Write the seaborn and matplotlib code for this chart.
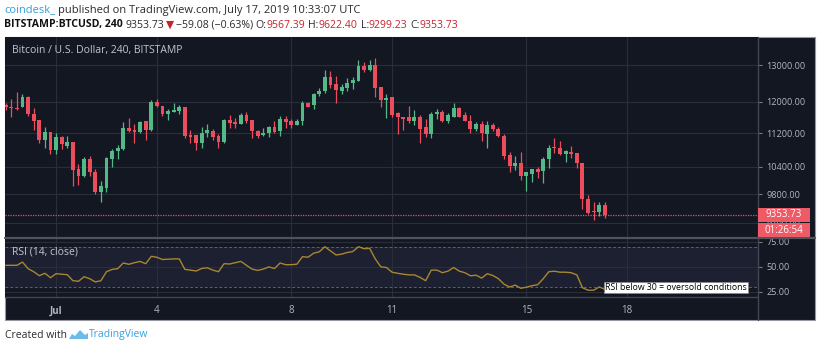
import numpy as np
import pandas as pd
import matplotlib
matplotlib.use('Agg')
import matplotlib.pyplot as plt
import matplotlib.dates as mdates
from matplotlib.patches import Rectangle, Polygon
from matplotlib.lines import Line2D
from matplotlib.ticker import NullLocator
import seaborn as sns

# BTC/USD 4h candles, Jun 29 12:00 -> Jul 17 08:00
opens = [11900, 11860, 11840, 11850, 12130, 11680, 11530, 11040, 11230, 10780,
         11100, 10890, 10990, 10350, 10190, 10580, 10290, 9840, 9940, 10590,
         10760, 10820, 11330, 11280, 11220, 11490, 11280, 11980, 11890, 11690,
         11740, 11760, 11860, 11150, 11150, 10970, 11190, 11260, 11120, 10990,
         11530, 11470, 11430, 11640, 11530, 11250, 11150, 11190, 11360, 11250,
         11560, 11490, 11410, 11490, 11960, 11900, 12190, 12280, 12660, 12460,
         12280, 12370, 12500, 12560, 12980, 12860, 13010, 12390, 12040, 12110,
         11700, 11610, 11590, 11510, 11590, 11360, 11180, 11690, 11720, 11490,
         11610, 11840, 11640, 11510, 11300, 11430, 11180, 11410, 11290, 11140,
         10670, 10410, 10490, 10190, 10240, 10350, 10300, 10570, 10860, 10840,
         10700, 10740, 10710, 10490, 9700, 9440, 9420, 9567.39]
highs = [11960, 12080, 12260, 12210, 12150, 11840, 11530, 11360, 11230, 11200,
         11140, 11120, 10990, 10460, 10620, 10650, 10350, 10090, 10620, 10820,
         10910, 11470, 11580, 11430, 11510, 11510, 12030, 12070, 11890, 11800,
         11950, 11910, 11870, 11280, 11150, 11350, 11430, 11300, 11180, 11560,
         11640, 11580, 11700, 11740, 11530, 11280, 11330, 11380, 11490, 11630,
         11620, 11540, 11540, 12010, 12000, 12240, 12370, 12870, 12820, 12690,
         12460, 12640, 12670, 13140, 13100, 13140, 13190, 12390, 12200, 12110,
         11730, 11610, 11880, 11790, 11660, 11560, 11740, 11800, 11780, 11700,
         11960, 11850, 11720, 11660, 11470, 11490, 11500, 11440, 11350, 11180,
         10750, 10660, 10740, 10280, 10350, 10400, 10620, 10920, 11070, 11010,
         10780, 10880, 10720, 10490, 9780, 9620, 9620, 9622.40]
lows = [11780, 11600, 11780, 11850, 11620, 11280, 10950, 10830, 10700, 10700,
        10820, 10850, 9980, 9990, 10170, 10190, 9800, 9640, 9850, 10400,
        10590, 10800, 11220, 10960, 11200, 11040, 11260, 11860, 11630, 11530,
        11720, 11670, 11070, 10970, 10780, 10840, 11110, 11040, 10840, 10970,
        11330, 11330, 11420, 11450, 11080, 11080, 11130, 11110, 11190, 11140,
        11330, 11330, 11390, 11410, 11850, 11800, 12150, 12220, 12370, 11960,
        12190, 12280, 12330, 12540, 12790, 12840, 12110, 11860, 11575, 11600,
        11170, 11270, 11450, 11390, 10960, 11100, 11080, 11560, 11470, 11460,
        11610, 11590, 11490, 11200, 11260, 11010, 10840, 11260, 11100, 10580,
        10290, 10330, 10100, 9870, 10070, 10150, 10050, 10370, 10730, 10670,
        10510, 10610, 10370, 9490, 9390, 9250, 9330, 9299.23]
closes = [11850, 11830, 11810, 12130, 11670, 11510, 11020, 11220, 10790, 11100,
          10930, 10990, 10340, 10190, 10580, 10280, 9840, 9970, 10600, 10760,
          10840, 11330, 11260, 11220, 11470, 11280, 11980, 11890, 11690, 11760,
          11780, 11860, 11120, 11110, 10970, 11200, 11280, 11110, 10990, 11530,
          11450, 11420, 11640, 11510, 11250, 11140, 11200, 11360, 11220, 11560,
          11470, 11400, 11490, 11960, 11870, 12210, 12280, 12660, 12440, 12300,
          12390, 12510, 12580, 12980, 12860, 13010, 12370, 12040, 12090, 11660,
          11600, 11560, 11490, 11590, 11300, 11180, 11690, 11720, 11490, 11660,
          11840, 11610, 11510, 11300, 11420, 11200, 11410, 11290, 11140, 10660,
          10410, 10490, 10190, 10280, 10350, 10290, 10580, 10840, 10830, 10700,
          10760, 10700, 10500, 9690, 9400, 9420, 9560, 9353.73]
rsi = [51.4, 51.4, 51.4, 54.6, 48, 45, 41, 43.4, 39, 43,
       42.5, 42, 36, 35.4, 40, 38, 34.8, 36, 45, 47.3,
       48, 53.7, 52.4, 54, 55.3, 53, 60.4, 59.4, 57.2, 57.5,
       57.8, 57.8, 47.3, 46.6, 45.7, 48.2, 48.9, 46.6, 45, 53,
       52.7, 54, 55.3, 51.4, 47.6, 46.3, 47.6, 49.8, 48.2, 53.7,
       52, 52, 52.5, 60, 59.5, 63.5, 64.9, 70, 65.8, 61.7,
       62.6, 64.2, 65.2, 70, 68, 68.4, 57.8, 49.8, 49.2, 44.5,
       43.4, 42.5, 41.8, 41.8, 39.3, 36, 46.6, 46.6, 44, 45.6,
       49.2, 45.6, 44, 40.9, 41.5, 38.6, 43, 41.2, 38, 32.5,
       29.7, 31.6, 28.4, 29.5, 31, 32, 38, 45, 45.5, 44.5,
       44.5, 44, 41.8, 29, 26.5, 26.5, 29.7, 27.4]

price_ticks = [9200, 9800, 10400, 11200, 12000, 13000]
rsi_ticks = [25, 50, 75]
day_ticks = ['2019-07-01', '2019-07-04', '2019-07-08', '2019-07-11', '2019-07-15', '2019-07-18']
day_labels = ['Jul', '4', '8', '11', '15', '18']
last_price = 9353.73

dates = pd.date_range('2019-06-29 12:00', periods=len(closes), freq='4h')
df = pd.DataFrame({'date': dates, 'open': opens, 'high': highs, 'low': lows,
                   'close': closes, 'rsi': rsi})
df['x'] = mdates.date2num(df['date'])

sns.set_style('dark')
plt.rcParams['font.family'] = ['Open Sans', 'DejaVu Sans']

W, H = 820, 351
BG = '#131722'
GRID = '#2a2e39'
TXT = '#b2b5be'
UP, DOWN = '#53b987', '#eb4d5c'

fig = plt.figure(figsize=(W / 100, H / 100), dpi=100, facecolor='white')


def fx(x):
    return x / W


def fy(y):
    return 1 - y / H


# dark chart frame
fig.patches.append(Rectangle((fx(5), fy(320)), fx(815) - fx(5), fy(37) - fy(320),
                             transform=fig.transFigure, facecolor=BG,
                             edgecolor='#9598a1', lw=0.8, zorder=-2))

ax = fig.add_axes([fx(5), fy(237), fx(758) - fx(5), fy(37) - fy(237)])
ax2 = fig.add_axes([fx(5), fy(297), fx(758) - fx(5), fy(237) - fy(297)], sharex=ax)

for a in (ax, ax2):
    a.set_facecolor(BG)
    for s in a.spines.values():
        s.set_visible(False)

# candles
up = df['close'] >= df['open']
cols = np.where(up, UP, DOWN)
ax.vlines(df['x'], df['low'], df['high'], colors=cols, lw=0.9, zorder=3)
body_low = df[['open', 'close']].min(axis=1)
body_h = (df['close'] - df['open']).abs().clip(lower=12)
ax.bar(df['x'], body_h, bottom=body_low, width=2.8 / 24, color=cols, lw=0, zorder=4)
ax.axhline(last_price, color=DOWN, ls=(0, (1, 1)), lw=0.9, zorder=2)

ax.set_yscale('log')
ax.set_ylim(8919, 13823)
ax.yaxis.set_minor_locator(NullLocator())
ax.set_yticks(price_ticks)
ax.set_yticklabels([f'{v:.2f}' for v in price_ticks])
ax.yaxis.tick_right()
ax.tick_params(axis='y', color='#787b86', labelcolor=TXT, length=3, pad=3, labelsize=6.6)
ax.tick_params(axis='x', labelbottom=False, length=0)
ax.grid(True, color=GRID, lw=0.8)
ax.set_axisbelow(True)

# RSI
ax2.axhspan(30, 70, color='#1c2030', lw=0, zorder=0)
for lvl in (30, 70):
    ax2.axhline(lvl, color='#5d606b', ls=(0, (3, 2)), lw=0.7, zorder=1)
sns.lineplot(x=df['x'], y=df['rsi'], ax=ax2, color='#a9862f', lw=1, zorder=3)
ax2.set_xlabel('')
ax2.set_ylabel('')
ax2.set_ylim(19.7, 79.7)
ax2.set_yticks(rsi_ticks)
ax2.set_yticklabels([f'{v:.2f}' for v in rsi_ticks])
ax2.yaxis.tick_right()
ax2.tick_params(axis='y', color='#787b86', labelcolor=TXT, length=3, pad=3, labelsize=6.6)
ax2.grid(True, color=GRID, lw=0.8)
ax2.set_axisbelow(True)

day_x = mdates.date2num(pd.to_datetime(day_ticks))
ax2.set_xticks(day_x)
ax2.set_xticklabels(day_labels)
ax2.tick_params(axis='x', color='#787b86', labelcolor=TXT, length=2, pad=4, labelsize=7)
ax2.get_xticklabels()[0].set_fontweight('bold')
ax.set_xlim(mdates.date2num(pd.Timestamp('2019-06-29 11:30')),
            mdates.date2num(pd.Timestamp('2019-07-21 21:25')))

# separators
def fline(x0, y0, x1, y1, color='#434651', lw=1.0, z=5):
    fig.lines.append(Line2D([fx(x0), fx(x1)], [fy(y0), fy(y1)], transform=fig.transFigure,
                            color=color, lw=lw, zorder=z))

fline(758, 37, 758, 320)
fline(5, 237.5, 815, 237.5, color='#50535e', lw=1.6)
fline(5, 297, 758, 297)

# panel titles
fig.text(fx(12), fy(50), 'Bitcoin / U.S. Dollar, 240, BITSTAMP', color='#c3c6ce',
         fontsize=7.5, va='center', ha='left')
fig.text(fx(12), fy(252), 'RSI (14, close)', color='#c3c6ce', fontsize=7.5,
         va='center', ha='left')
fig.text(fx(605), fy(287.5), 'RSI below 30 = oversold conditions', color='black',
         fontsize=6.3, va='center', ha='left', zorder=6,
         bbox=dict(boxstyle='square,pad=0.15', facecolor='white', edgecolor='#888888', lw=0.5))

# last price / countdown tags
for y0, y1, label in [(207.5, 222, f'{last_price:.2f}'), (223.5, 237, '01:26:54')]:
    fig.patches.append(Rectangle((fx(758.5), fy(y1)), fx(810) - fx(758.5), fy(y0) - fy(y1),
                                 transform=fig.transFigure, facecolor='#ef5a67', lw=0, zorder=6))
    fig.text(fx(784), fy((y0 + y1) / 2), label, color='white', fontsize=7,
             va='center', ha='center', zorder=7)

# header
renderer = fig.canvas.get_renderer()


def chain(parts, x, y, size):
    for s, color, weight, gap in parts:
        t = fig.text(fx(x), fy(y), s, color=color, fontsize=size, fontweight=weight,
                     va='center', ha='left')
        x += t.get_window_extent(renderer=renderer).width + gap
    return x


RED = '#c8232c'
DARK = '#2b2b2b'
chain([('coindesk_', '#2f9fe0', 'normal', 3),
       ('published on TradingView.com, July 17, 2019 10:33:07 UTC', DARK, 'normal', 0)],
      4, 10, 8)
chain([('BITSTAMP:BTCUSD, 240', '#111111', 'bold', 3),
       ('9353.73', DARK, 'normal', 1.5),
       ('▼', RED, 'normal', 1.5),
       ('\u221259.08 (\u22120.63%)', DARK, 'normal', 3),
       ('O:', DARK, 'normal', 0), ('9567.39', RED, 'normal', 3),
       ('H:', DARK, 'normal', 0), ('9622.40', RED, 'normal', 3),
       ('L:', DARK, 'normal', 0), ('9299.23', RED, 'normal', 3),
       ('C:', DARK, 'normal', 0), ('9353.73', RED, 'normal', 0)],
      4, 25, 7.6)

# footer
end = chain([('Created with', DARK, 'normal', 2)], 5, 335, 7.5)
logo = [(end, 339), (end + 3, 334), (end + 6, 336), (end + 11, 330), (end + 16, 335),
        (end + 19, 333), (end + 19, 339)]
fig.patches.append(Polygon([(fx(px), fy(py)) for px, py in logo], closed=True,
                           transform=fig.transFigure, facecolor='#6cbbe8', lw=0))
chain([('TradingView', '#3a9fe0', 'normal', 0)], end + 20, 335, 7.5)

fig.savefig('out.png', dpi=100, facecolor='white')
